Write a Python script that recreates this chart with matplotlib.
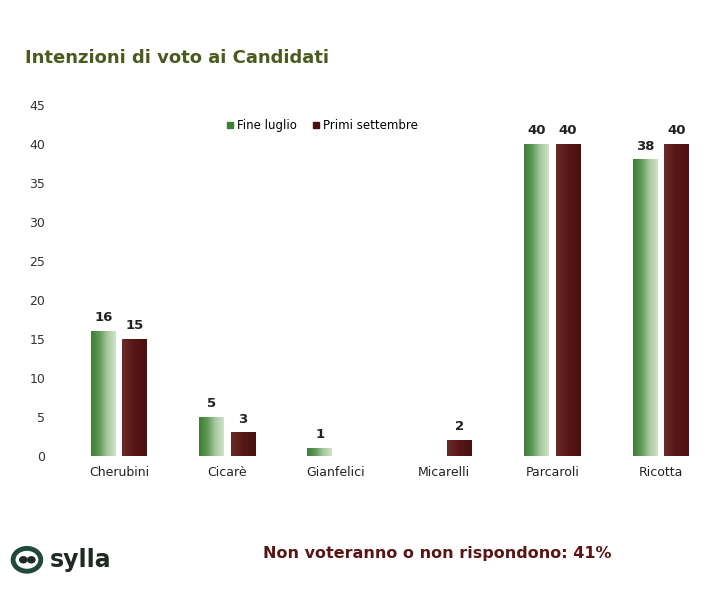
import matplotlib.pyplot as plt
import numpy as np
from matplotlib.colors import LinearSegmentedColormap
from matplotlib.patches import Circle

candidati = ["Cherubini", "Cicarè", "Gianfelici", "Micarelli", "Parcaroli", "Ricotta"]
fine_luglio = [16, 5, 1, 0, 40, 38]
primi_settembre = [15, 3, 0, 2, 40, 40]
serie = ["Fine luglio", "Primi settembre"]
yticks = [0, 5, 10, 15, 20, 25, 30, 35, 40, 45]

green_cm = LinearSegmentedColormap.from_list("g", ["#3f7c3a", "#5f9a56", "#a9c9a2", "#cfe2ca"])
red_cm = LinearSegmentedColormap.from_list("r", ["#6a2a2a", "#561616", "#4a1010"])

fig = plt.figure(figsize=(7.28, 6), dpi=100)
ax = fig.add_axes([0.089, 0.24, 0.893, 0.585])

x = np.arange(len(candidati))
w = 0.23
gap = 0.06
grad = np.linspace(0, 1, 64).reshape(1, -1)

for vals, off, cm, lab in [(fine_luglio, -(w + gap) / 2, green_cm, serie[0]),
                           (primi_settembre, (w + gap) / 2, red_cm, serie[1])]:
    bars = ax.bar(x + off, vals, w, color=cm(0.3), label=lab, zorder=2)
    for b, v in zip(bars, vals):
        if v == 0:
            b.set_visible(False)
            continue
        b.set_alpha(0)
        ax.imshow(grad, cmap=cm, aspect="auto", zorder=3,
                  extent=[b.get_x(), b.get_x() + b.get_width(), 0, v])
        ax.text(b.get_x() + b.get_width() / 2, v + 0.9, str(v), ha="center",
                va="bottom", fontsize=9.5, fontweight="bold", color="#222222")

ax.set_xlim(-0.5, len(candidati) - 0.5)
ax.set_ylim(0, 45)
ax.set_yticks(yticks)
ax.set_xticks(x)
ax.set_xticklabels(candidati, fontsize=9, color="#222222")
ax.tick_params(axis="y", labelsize=9, colors="#333333", length=0, pad=14)
ax.tick_params(axis="x", length=0, pad=7)
for s in ax.spines.values():
    s.set_visible(False)

h1 = plt.Line2D([], [], marker="s", ls="", color="#3f7c3a", markersize=5)
h2 = plt.Line2D([], [], marker="s", ls="", color="#4a1010", markersize=5)
ax.legend([h1, h2], serie, loc="upper left", bbox_to_anchor=(0.23, 0.99),
          ncol=2, frameon=False, fontsize=8.5, handletextpad=0.2,
          columnspacing=1.2, handlelength=0.8)

fig.text(0.034, 0.903, "Intenzioni di voto ai Candidati", fontsize=13,
         fontweight="bold", color="#4b5a1e", va="center")
fig.text(0.361, 0.078, "Non voteranno o non rispondono: 41%", fontsize=11.5,
         fontweight="bold", color="#5a1414", va="center")
fig.text(0.068, 0.067, "sylla", fontsize=17, fontweight="bold",
         color="#1f2a22", va="center")
fig.patches.append(Circle((0.037, 0.067), 0.019, transform=fig.transFigure,
                          fill=False, lw=3.5, color="#1f4a3a"))
fig.patches.append(Circle((0.032, 0.067), 0.005, transform=fig.transFigure,
                          color="#1f2a22"))
fig.patches.append(Circle((0.043, 0.067), 0.005, transform=fig.transFigure,
                          color="#1f2a22"))

fig.savefig("out.png", dpi=100)
